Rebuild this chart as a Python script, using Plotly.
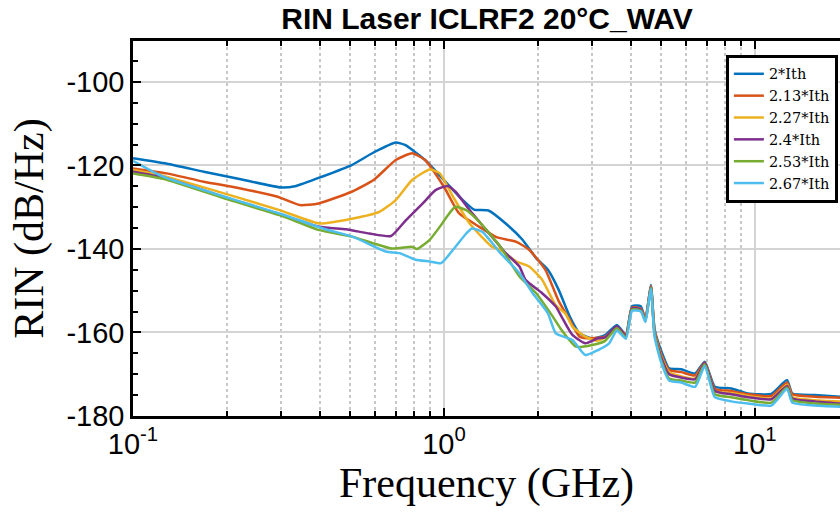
import plotly.graph_objects as go

# ---- data (frequency in GHz, RIN in dB/Hz) ----
names = ["2*Ith", "2.13*Ith", "2.27*Ith", "2.4*Ith", "2.53*Ith", "2.67*Ith"]
colors = ["#0072BD", "#D95319", "#EDB120", "#7E2F8E", "#77AC30", "#4DBEEE"]

f_200 = [0.1, 0.1285, 0.169, 0.222, 0.30, 0.335, 0.405, 0.505, 0.594, 0.70, 0.75, 0.87, 1.0, 1.15, 1.25, 1.39,
         1.58, 1.79, 1.98, 2.16, 2.34, 2.54, 2.73, 3.0, 3.3, 3.6, 3.85, 4.03, 4.3, 4.45, 4.63, 4.76, 4.99, 5.3,
         5.8, 6.43, 6.9, 7.44, 8.4, 9.5, 11.3, 12.7, 13.2, 15.6, 18.8]
rin_200 = [-118.3, -119.6, -121.5, -123.3, -125.3, -124.9, -122.7, -119.9, -116.9, -114.5, -115.1, -118.7, -123.5,
           -128.3, -130.6, -130.8, -133.9, -137.8, -142.2, -145.0, -149.8, -156.2, -160.2, -161.4, -160.6, -158.2,
           -160.6, -153.7, -153.7, -157.0, -148.6, -159.2, -164.2, -168.6, -168.8, -169.8, -167.0, -173.0, -173.4,
           -174.6, -174.7, -171.4, -174.6, -175.0, -175.4]

f_213 = [0.1, 0.1285, 0.169, 0.222, 0.292, 0.344, 0.395, 0.505, 0.594, 0.70, 0.79, 0.87, 1.0, 1.12, 1.30, 1.47,
         1.71, 1.88, 2.12, 2.34, 2.54, 2.73, 3.0, 3.3, 3.6, 3.85, 4.03, 4.3, 4.45, 4.63, 4.76, 4.99, 5.3, 5.8,
         6.43, 6.9, 7.44, 8.4, 9.5, 11.3, 12.7, 13.2, 15.6, 18.8]
rin_213 = [-120.7, -121.9, -123.9, -125.5, -127.5, -129.5, -129.1, -126.3, -123.5, -118.7, -117.1, -118.7, -125.1,
           -131.5, -134.7, -137.1, -138.3, -140.2, -145.0, -152.5, -157.0, -161.0, -161.4, -161.0, -158.6, -160.5,
           -154.0, -154.3, -156.5, -148.8, -159.5, -165.0, -169.0, -169.5, -170.3, -167.2, -173.5, -174.0, -174.8,
           -175.2, -172.0, -174.8, -175.4, -175.6]

f_227 = [0.1, 0.125, 0.205, 0.296, 0.398, 0.51, 0.62, 0.70, 0.79, 0.90, 0.97, 1.07, 1.21, 1.43, 1.52, 1.71, 1.88,
         2.07, 2.29, 2.46, 2.59, 2.85, 3.1, 3.3, 3.6, 3.85, 4.03, 4.3, 4.45, 4.63, 4.76, 4.99, 5.3, 5.8, 6.43, 6.9,
         7.44, 8.4, 9.5, 11.3, 12.7, 13.2, 15.6, 18.8]
rin_227 = [-121.1, -122.5, -127.1, -130.7, -133.9, -132.7, -131.1, -128.3, -123.5, -121.0, -121.9, -127.5, -133.9,
           -139.5, -140.2, -143.0, -144.2, -147.4, -153.5, -155.5, -158.6, -161.0, -162.0, -161.2, -158.8, -160.8,
           -154.2, -154.5, -156.8, -149.0, -160.0, -165.5, -169.5, -170.5, -171.0, -167.5, -174.0, -174.5, -175.2,
           -175.8, -172.5, -175.5, -176.2, -176.5]

f_240 = [0.1, 0.125, 0.205, 0.296, 0.398, 0.484, 0.576, 0.676, 0.755, 0.855, 0.94, 1.03, 1.09, 1.21, 1.37, 1.52,
         1.58, 1.75, 1.83, 2.07, 2.29, 2.39, 2.59, 2.85, 3.13, 3.3, 3.6, 3.85, 4.03, 4.3, 4.45, 4.63, 4.76, 4.99,
         5.3, 5.8, 6.43, 6.9, 7.44, 8.4, 9.5, 11.3, 12.7, 13.2, 15.6, 18.8]
rin_240 = [-121.5, -122.9, -128.0, -131.7, -134.7, -135.3, -136.3, -136.9, -133.1, -129.1, -125.9, -124.9, -126.3,
           -130.7, -135.5, -139.5, -141.0, -144.2, -147.4, -150.6, -153.8, -156.2, -160.6, -162.6, -161.4, -161.2,
           -158.5, -160.8, -154.2, -154.5, -157.0, -149.0, -160.2, -165.8, -170.0, -170.8, -171.2, -167.3, -174.0,
           -174.8, -175.5, -176.0, -172.8, -175.8, -176.5, -177.0]

f_253 = [0.1, 0.125, 0.205, 0.296, 0.398, 0.51, 0.68, 0.79, 0.82, 0.90, 0.97, 1.04, 1.09, 1.18, 1.30, 1.52, 1.75,
         1.98, 2.24, 2.39, 2.66, 3.0, 3.3, 3.6, 3.85, 4.03, 4.3, 4.45, 4.63, 4.76, 4.99, 5.3, 5.8, 6.43, 6.9, 7.44,
         8.4, 9.5, 11.3, 12.7, 13.2, 15.6, 18.8]
rin_253 = [-121.9, -123.2, -128.3, -131.9, -135.5, -137.1, -139.9, -139.5, -140.0, -137.8, -134.7, -131.5, -129.9,
           -130.7, -133.5, -139.5, -146.6, -150.6, -156.2, -159.4, -163.4, -163.0, -162.0, -159.0, -161.2, -154.5,
           -154.8, -157.3, -149.2, -160.5, -166.5, -171.0, -171.5, -172.0, -167.6, -174.8, -175.5, -176.2, -176.8,
           -173.2, -176.2, -177.0, -177.3]

f_267 = [0.1, 0.125, 0.205, 0.296, 0.408, 0.51, 0.65, 0.72, 0.81, 0.90, 0.98, 1.07, 1.18, 1.23, 1.33, 1.52, 1.75,
         1.93, 2.16, 2.29, 2.59, 2.85, 3.13, 3.4, 3.6, 3.85, 4.03, 4.3, 4.45, 4.63, 4.76, 4.99, 5.3, 5.8, 6.43, 6.9,
         7.44, 8.4, 9.5, 11.3, 12.7, 13.2, 15.6, 18.8]
rin_267 = [-118.9, -122.7, -127.9, -131.5, -135.1, -137.1, -140.6, -141.0, -142.6, -143.0, -143.4, -140.2, -136.3,
           -135.1, -135.9, -141.0, -145.8, -150.6, -155.4, -160.2, -161.8, -165.4, -164.2, -162.6, -159.5, -161.5,
           -154.8, -155.0, -157.5, -149.5, -161.0, -167.0, -171.5, -172.0, -173.0, -168.0, -175.5, -176.5, -177.0,
           -177.5, -173.5, -176.8, -177.5, -177.8]

freqs = [f_200, f_213, f_227, f_240, f_253, f_267]
rins = [rin_200, rin_213, rin_227, rin_240, rin_253, rin_267]

x_major = [0.1, 1, 10]
x_major_text = ["10<sup>-1</sup>", "10<sup>0</sup>", "10<sup>1</sup>"]
x_minor = [0.2, 0.3, 0.4, 0.5, 0.6, 0.7, 0.8, 0.9, 2, 3, 4, 5, 6, 7, 8, 9, 20]
y_major = [-180, -160, -140, -120, -100]
y_major_text = ["-180", "-160", "-140", "-120", "-100"]
y_minor = [-175, -170, -165, -155, -150, -145, -135, -130, -125, -115, -110, -105, -95, -90]

fig = go.Figure()
for n, c, fx, ry in zip(names, colors, freqs, rins):
    fig.add_trace(go.Scatter(x=fx, y=ry, mode="lines", name=n,
                             line=dict(color=c, width=2.5, shape="spline", smoothing=0.5)))

grid_col = "#d4d4d4"
fig.update_layout(
    width=840, height=518,
    margin=dict(l=133, r=0, t=41, b=102),
    paper_bgcolor="white", plot_bgcolor="white",
    title=dict(text="<b>RIN Laser ICLRF2 20°C_WAV</b>", x=487 / 840, xanchor="center",
               y=1 - 18 / 518, yanchor="middle", yref="container",
               font=dict(family="Liberation Sans", size=30, color="black")),
    legend=dict(x=0.997, xanchor="right", y=0.963, yanchor="top",
                bgcolor="white", bordercolor="black", borderwidth=3,
                font=dict(family="DejaVu Serif", size=14.5, color="black"),
                tracegroupgap=0, itemwidth=30),
    showlegend=True,
)
fig.update_xaxes(
    type="log", range=[-1, 1.274], automargin=False,
    tickmode="array", tickvals=x_major, ticktext=x_major_text,
    ticks="inside", ticklen=8, tickwidth=2, tickcolor="black",
    showline=True, linecolor="black", linewidth=2.5, mirror="ticks",
    showgrid=True, gridcolor=grid_col, gridwidth=2,
    tickfont=dict(family="Liberation Sans", size=29, color="black"),
    minor=dict(tickmode="array", tickvals=x_minor, ticks="inside", ticklen=5, tickwidth=2,
               tickcolor="black", showgrid=True, gridcolor="#c8c8c8", griddash="dot", gridwidth=2),
    title=dict(text="Frequency (GHz)", standoff=6,
               font=dict(family="Liberation Serif", size=42, color="black")),
    zeroline=False,
)
fig.update_yaxes(
    range=[-180, -90.2], automargin=False,
    tickmode="array", tickvals=y_major, ticktext=y_major_text,
    ticks="inside", ticklen=8, tickwidth=2, tickcolor="black",
    showline=True, linecolor="black", linewidth=2.5, mirror=False,
    showgrid=True, gridcolor=grid_col, gridwidth=2,
    tickfont=dict(family="Liberation Sans", size=29, color="black"),
    minor=dict(tickmode="array", tickvals=y_minor, ticks="inside", ticklen=5, tickwidth=2,
               tickcolor="black", showgrid=False),
    title=dict(text="RIN (dB/Hz)", standoff=10,
               font=dict(family="Liberation Serif", size=42, color="black")),
    zeroline=False,
)

fig.write_html("out.html", config={"displayModeBar": False},
               post_script="document.body.style.margin='0';")
